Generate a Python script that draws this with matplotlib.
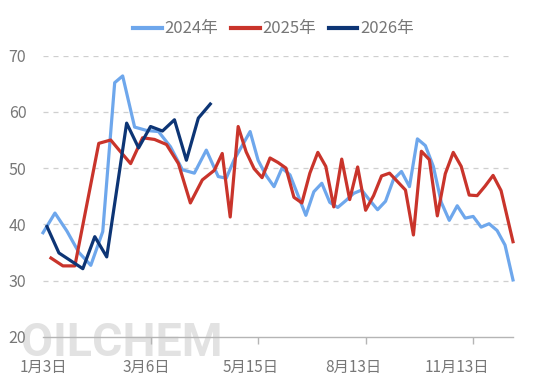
import matplotlib.pyplot as plt
from matplotlib.ticker import FixedLocator, NullFormatter

plt.rcParams['font.family'] = ['Noto Sans CJK SC', 'DejaVu Sans']

# weekly values, dates as month-day; the x axis is the union of all dates (category axis)
dates_2024 = ["1-3", "1-10", "1-17", "1-24", "1-31", "2-7", "2-14", "2-21", "2-28",
              "3-6", "3-13", "3-20", "3-27", "4-3", "4-10", "4-17", "4-24", "5-1",
              "5-8", "5-15", "5-22", "5-29", "6-5", "6-12", "6-19", "6-26", "7-3",
              "7-10", "7-17", "7-24", "7-31", "8-7", "8-13", "8-21", "8-28", "9-4",
              "9-11", "9-18", "9-25", "10-2", "10-9", "10-16", "10-23", "10-30",
              "11-6", "11-13", "11-20", "11-27", "12-4", "12-11", "12-18", "12-25",
              "12-31"]
vals_2024 = [38.5, 42.0, 38.8, 35.0, 32.7, 38.7, 65.2, 66.4, 57.3,
             56.7, 56.5, 53.8, 49.7, 49.1, 53.2, 48.5, 48.2, 51.5,
             54.0, 56.5, 51.4, 48.7, 46.7, 50.0, 48.8, 45.2, 41.6,
             45.8, 47.3, 43.9, 43.0, 44.2, 45.5, 46.1, 44.3, 42.6,
             44.1, 48.0, 49.4, 46.7, 55.2, 54.0, 50.3, 43.9,
             40.7, 43.3, 41.1, 41.4, 39.5, 40.1, 38.9, 36.3,
             30.1]

dates_2025 = ["1-6", "1-13", "1-20", "1-27", "2-3", "2-10", "2-17", "2-24", "3-3",
              "3-10", "3-17", "3-24", "3-31", "4-7", "4-14", "4-21", "4-28", "5-5",
              "5-12", "5-19", "5-26", "6-2", "6-9", "6-16", "6-23", "6-30", "7-7",
              "7-14", "7-21", "7-28", "8-4", "8-11", "8-18", "8-25", "9-1", "9-8",
              "9-15", "9-22", "9-29", "10-6", "10-13", "10-20", "10-27", "11-3",
              "11-10", "11-17", "11-24", "12-1", "12-8", "12-15", "12-22", "12-29",
              "12-31"]
vals_2025 = [34.0, 32.6, 32.6, None, 54.4, 55.0, 53.3, 50.8, 55.4,
             55.1, 54.2, 50.8, 43.8, 47.9, 49.6, 52.6, 41.3, 57.4,
             52.9, 49.9, 48.3, 51.8, 51.0, 50.0, 44.8, 43.8, 49.1,
             52.8, 50.3, 43.1, 51.6, 44.4, 50.2, 42.5, 45.1, 48.6,
             49.1, 47.6, 46.1, 38.1, 53.0, 51.5, 41.5, 49.0,
             52.8, 50.3, 45.2, 45.1, 46.8, 48.7, 46.0, None,
             36.9]

dates_2026 = ["1-5", "1-12", "1-19", "1-26", "2-2", "2-9", "2-23", "3-2", "3-9",
              "3-16", "3-23", "3-30", "4-6", "4-13"]
vals_2026 = [39.6, 34.9, 33.5, 32.1, 37.8, 34.2, 58.0, 53.6, 57.4,
             56.6, 58.6, 51.4, 58.9, 61.4]

series = [
    ("2024年", dates_2024, vals_2024, "#6ea7ec"),
    ("2025年", dates_2025, vals_2025, "#c9342b"),
    ("2026年", dates_2026, vals_2026, "#0d3575"),
]


def md_key(s):
    m, d = s.split("-")
    return int(m), int(d)


cats = sorted(set(dates_2024) | set(dates_2025) | set(dates_2026), key=md_key)
pos = {c: i for i, c in enumerate(cats)}

fig = plt.figure(figsize=(5.54, 3.84), dpi=100)
ax = fig.add_axes([43 / 554, 1 - 336.7 / 384, 470 / 554, 281 / 384])
ax.patch.set_alpha(0)

# watermark
fig.text(21 / 554, 1 - 356 / 384, "OILCHEM", family="Roboto", fontweight="bold",
         fontsize=33.5, color="#e2e2e2", ha="left", va="baseline", zorder=-1)

for name, dates, vals, color in series:
    xs = [pos[d] for d, v in zip(dates, vals) if v is not None]
    ys = [v for v in vals if v is not None]
    ax.plot(xs, ys, color=color, lw=2.3, label=name, clip_on=False,
            solid_joinstyle="round", zorder=3)

ax.set_xlim(0, len(cats) - 1)
ax.set_ylim(20, 70)

# grid
for y in [30, 40, 50, 60, 70]:
    ax.axhline(y, color="#cfcfcf", lw=0.9, ls=(0, (4, 4)), zorder=1)

for s in ["top", "right", "left"]:
    ax.spines[s].set_visible(False)
ax.spines["bottom"].set_color("#b5b5b5")
ax.spines["bottom"].set_linewidth(1)

ax.set_yticks([20, 30, 40, 50, 60, 70])
ax.tick_params(axis="y", length=0, pad=12, labelsize=11.5, labelcolor="#777777")

lab_idx = list(range(0, len(cats), 26))
ax.set_xticks(lab_idx)
ax.set_xticklabels(["%d月%d日" % md_key(cats[i]) for i in lab_idx])
ax.tick_params(axis="x", length=0, pad=16, labelsize=11, labelcolor="#777777")
ax.xaxis.set_minor_locator(FixedLocator(list(range(0, len(cats), 27))))
ax.xaxis.set_minor_formatter(NullFormatter())
ax.tick_params(axis="x", which="minor", length=5, width=1, color="#b5b5b5")

leg = fig.legend(loc="center", bbox_to_anchor=(273.5 / 554, 1 - 29 / 384), ncol=3,
                 frameon=False, fontsize=12, handlelength=1.7, handletextpad=0.15,
                 columnspacing=0.8, labelcolor="#777777")
for h in leg.legend_handles:
    h.set_linewidth(3)

fig.savefig("out.png", dpi=100)
